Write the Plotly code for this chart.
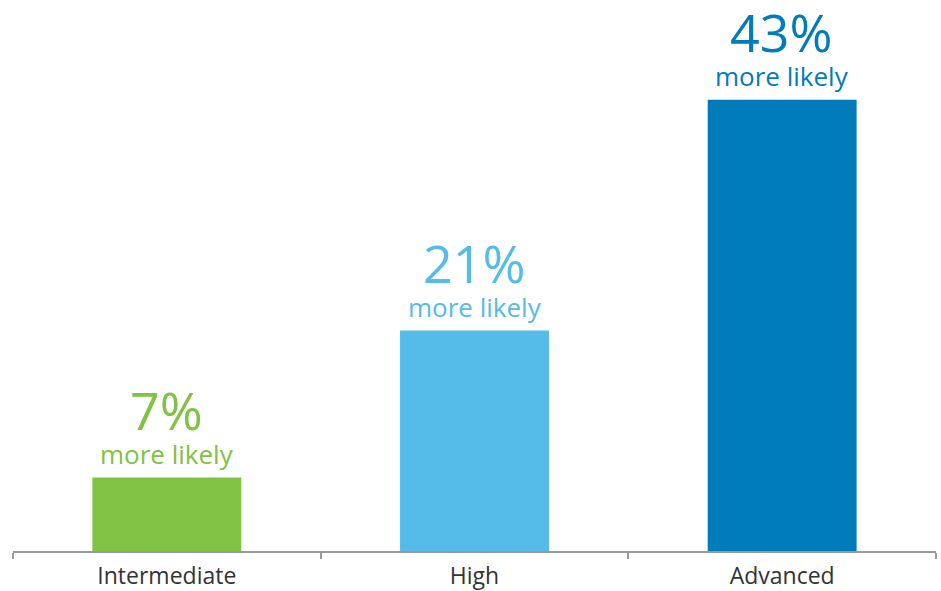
import plotly.graph_objects as go

categories = ["Intermediate", "High", "Advanced"]
values = [7, 21, 43]
pct_labels = ["7%", "21%", "43%"]
sub_labels = ["more likely", "more likely", "more likely"]
colors = ["#80c241", "#55bbe9", "#007cba"]

fig = go.Figure()
fig.add_trace(go.Bar(x=categories, y=values, marker=dict(color=colors, line=dict(width=0)),
                     width=0.484, hoverinfo="skip"))

for c, v, p, s, col in zip(categories, values, pct_labels, sub_labels, colors):
    fig.add_annotation(x=c, y=v, text=f"<span style='font-size:52px'>{p}</span><br>{s}",
                       showarrow=False, yanchor="bottom", yshift=4,
                       font=dict(family="Open Sans", size=26, color=col))

fig.update_layout(
    width=941, height=591,
    margin=dict(l=13, r=5, t=0, b=38),
    paper_bgcolor="white", plot_bgcolor="white",
    showlegend=False,
    bargap=0.516,
    xaxis=dict(showline=True, linecolor="#9a9a9a", linewidth=2, ticks="outside",
               tickson="boundaries", ticklen=6, tickcolor="#9a9a9a", tickwidth=2,
               ticklabelstandoff=3,
               showgrid=False, tickfont=dict(family="Open Sans", size=23, color="#333333")),
    yaxis=dict(range=[0, 52.5], visible=False, showgrid=False, zeroline=False),
)

fig.write_html("out.html")
